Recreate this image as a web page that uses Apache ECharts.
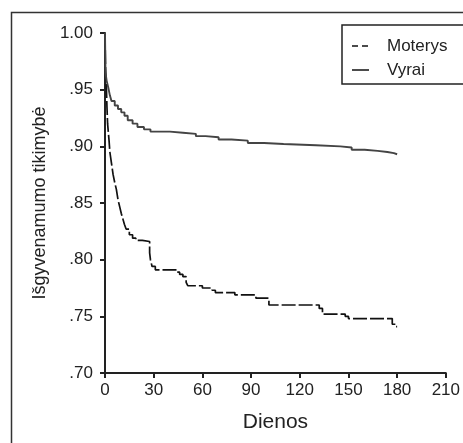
<!DOCTYPE html>
<html>
<head>
<meta charset="utf-8">
<script src="https://cdn.jsdelivr.net/npm/echarts@6/dist/echarts.min.js"></script>
<style>
html,body{margin:0;padding:0;background:#fff;}
#c{width:463px;height:443px;}
</style>
</head>
<body>
<div id="c"></div>
<script>
// Series data: [day, survival probability]
const seriesNames = ['Moterys', 'Vyrai'];
const moterys = [
  [0,1.0],[0.3,0.97],[0.8,0.955],[1.2,0.935],[1.6,0.92],[2.5,0.905],[3,0.895],[4,0.885],
  [5,0.875],[6,0.868],[7,0.862],[8,0.853],[9,0.847],[10,0.841],[11,0.836],[12,0.831],
  [13,0.827],[15,0.822],[17,0.819],[19,0.817],[23,0.816],[27.5,0.806],[28,0.8],[29,0.794],
  [31,0.791],[44.5,0.789],[46,0.787],[48,0.785],[50,0.78],[51,0.777],[60,0.775],[66,0.773],
  [68,0.771],[80,0.769],[93,0.766],[101,0.76],[132,0.757],[134,0.752],[148,0.75],[150,0.748],
  [177,0.743],[179,0.741],[180,0.741]
];
const vyrai = [
  [0,1.0],[0.3,0.965],[1,0.958],[2,0.952],[3,0.945],[4,0.94],[6,0.936],[8,0.933],[10,0.93],
  [12,0.927],[14,0.923],[17,0.92],[20,0.917],[24,0.915],[28,0.913],[40,0.912],[48,0.911],
  [56,0.909],[62,0.908],[70,0.906],[78,0.905],[88,0.903],[98,0.902],[110,0.901],[130,0.9],
  [145,0.899],[152,0.897],[160,0.896],[168,0.895],[174,0.894],[178,0.893],[180,0.893]
];
const xTicks = [0, 30, 60, 90, 120, 150, 180, 210];
const yTicks = [0.70, 0.75, 0.80, 0.85, 0.90, 0.95, 1.00];
const yTickLabels = ['.70', '.75', '.80', '.85', '.90', '.95', '1.00'];
const xTitle = 'Dienos';
const yTitle = 'Išgyvenamumo tikimybė';

const font = 'Liberation Sans, Arial, sans-serif';
const chart = echarts.init(document.getElementById('c'), null, {renderer: 'canvas'});
chart.setOption({
  animation: false,
  backgroundColor: '#fff',
  grid: {left: 105, right: 12, top: 33, bottom: 70, containLabel: false},
  graphic: [
    {type: 'rect', left: 9, top: 10, z: -1, silent: true,
     shape: {width: 480, height: 460},
     style: {fill: 'none', stroke: '#333', lineWidth: 1.5}},
    // legend box
    {type: 'rect', z: 10, silent: true,
     shape: {x: 342, y: 25, width: 140, height: 59},
     style: {fill: '#fff', stroke: '#222', lineWidth: 1.5}},
    {type: 'line', z: 11, silent: true,
     shape: {x1: 352, y1: 46, x2: 369, y2: 46},
     style: {stroke: '#111', lineWidth: 1.5, lineDash: [6, 4]}},
    {type: 'line', z: 11, silent: true,
     shape: {x1: 352, y1: 70, x2: 369, y2: 70},
     style: {stroke: '#111', lineWidth: 1.5}},
    {type: 'text', z: 11, silent: true, x: 387, y: 46,
     style: {text: seriesNames[0], fontFamily: font, fontSize: 17, fill: '#222', verticalAlign: 'middle'}},
    {type: 'text', z: 11, silent: true, x: 387, y: 70,
     style: {text: seriesNames[1], fontFamily: font, fontSize: 17, fill: '#222', verticalAlign: 'middle'}}
  ],
  xAxis: {
    type: 'value', min: 0, max: 210, interval: 30,
    name: xTitle, nameLocation: 'middle', nameGap: 39,
    nameTextStyle: {fontFamily: font, fontSize: 21, color: '#222'},
    axisLine: {show: true, lineStyle: {color: '#222', width: 2}},
    axisTick: {show: true, length: 5, lineStyle: {color: '#222', width: 2}},
    axisLabel: {fontFamily: font, fontSize: 17, color: '#222', margin: 9,
      formatter: v => { const i = xTicks.indexOf(v); return i >= 0 ? String(xTicks[i]) : ''; }},
    splitLine: {show: false}
  },
  yAxis: {
    type: 'value', min: 0.70, max: 1.00, interval: 0.05,
    name: yTitle, nameLocation: 'middle', nameGap: 52, nameRotate: 90,
    nameTextStyle: {fontFamily: font, fontSize: 18, color: '#222'},
    axisLine: {show: true, lineStyle: {color: '#222', width: 2}},
    axisTick: {show: true, length: 5, lineStyle: {color: '#222', width: 2}},
    axisLabel: {fontFamily: font, fontSize: 17, color: '#222', margin: 12,
      formatter: v => {
        let best = 0;
        yTicks.forEach((t, i) => { if (Math.abs(t - v) < Math.abs(yTicks[best] - v)) best = i; });
        return yTickLabels[best];
      }},
    splitLine: {show: false}
  },
  series: [
    {
      name: seriesNames[0], type: 'line', step: 'end', data: moterys,
      symbol: 'none', lineStyle: {color: '#111', width: 1.7, type: [14, 3]}, itemStyle: {color: '#111'}
    },
    {
      name: seriesNames[1], type: 'line', step: 'end', data: vyrai,
      symbol: 'none', lineStyle: {color: '#444', width: 1.9, type: 'solid'}, itemStyle: {color: '#444'}
    }
  ]
});
</script>
</body>
</html>
